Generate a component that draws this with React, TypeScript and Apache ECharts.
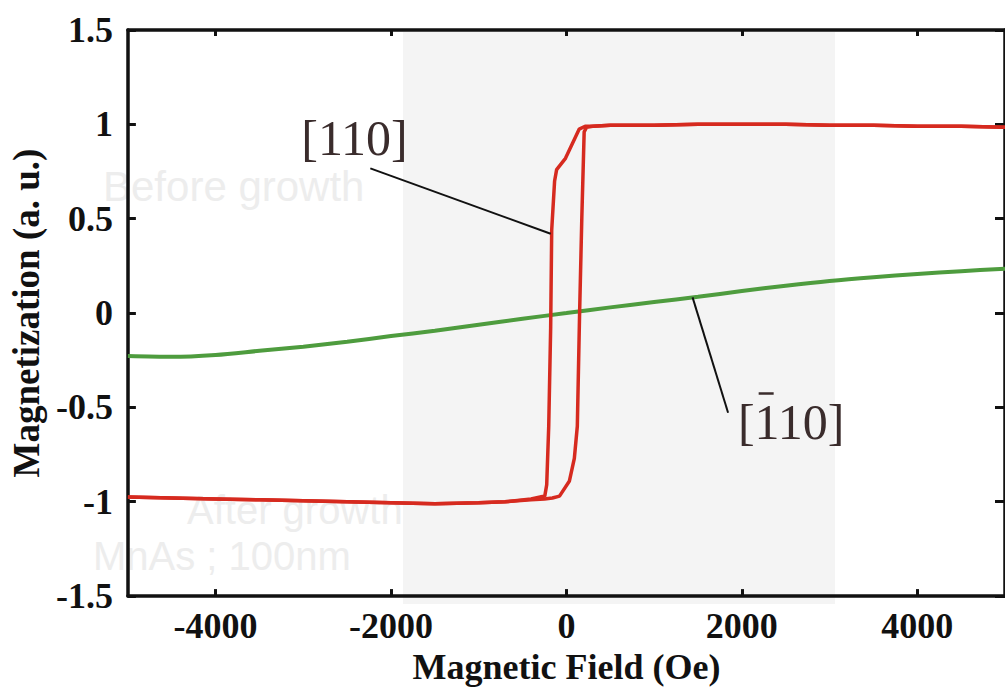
import React, { useEffect, useRef } from "react";
import * as echarts from "echarts";

// X axis tick values (Oe)
const xTickValues = [-4000, -2000, 0, 2000, 4000];

// [110] hysteresis loop — descending branch (field swept + -> -)
const descendingField = [5000, 4500, 4000, 3500, 3000, 2500, 2000, 1500, 1000, 700, 500, 300, 213, 146, -11, -112, -135, -168, -180, -202, -225, -247, -404, -700, -1000, -1500, -2000, -2500, -3000, -3500, -4000, -4500, -5000];
const descendingMag = [0.985, 0.99, 0.99, 0.995, 0.995, 1.0, 1.0, 1.0, 0.995, 0.995, 0.995, 0.99, 0.99, 0.975, 0.82, 0.76, 0.7, 0.44, -0.08, -0.6, -0.91, -0.97, -0.985, -1.0, -1.005, -1.01, -1.005, -1.0, -0.995, -0.99, -0.985, -0.98, -0.975];

// [110] hysteresis loop — ascending branch (field swept - -> +)
const ascendingField = [-5000, -4500, -4000, -3500, -3000, -2500, -2000, -1500, -1000, -700, -404, -250, -160, -79, 34, 90, 124, 150, 175, 202, 230, 300, 500, 1000, 1500, 2000, 2500, 3000, 3500, 4000, 4500, 5000];
const ascendingMag = [-0.975, -0.98, -0.985, -0.99, -0.995, -1.0, -1.005, -1.01, -1.005, -1.0, -0.99, -0.985, -0.98, -0.97, -0.89, -0.77, -0.6, 0.0, 0.5, 0.96, 0.985, 0.99, 0.995, 0.995, 1.0, 1.0, 1.0, 0.995, 0.995, 0.99, 0.99, 0.985];

// [-110] hard-axis curve
const hardField = [-5000, -4500, -4000, -3500, -3000, -2500, -2000, -1500, -1000, -500, 0, 500, 1000, 1500, 2000, 2500, 3000, 3500, 4000, 4500, 5000];
const hardMag = [-0.228, -0.232, -0.222, -0.2, -0.178, -0.152, -0.122, -0.094, -0.062, -0.03, 0.0, 0.03, 0.058, 0.086, 0.117, 0.145, 0.17, 0.19, 0.207, 0.222, 0.235];

// Annotation anchors in data coordinates [field, magnetization]
const label110At = [-2416, 0.93];
const leader110From = [-2236, 0.767];
const leader110To = [-180, 0.42];
const labelBar110At = [2562, -0.58];
const leaderBar110From = [1438, 0.083];
const leaderBar110To = [1843, -0.528];

const zip = (xs: number[], ys: number[]) => xs.map((x, i) => [x, ys[i]]);

export default function App() {
  const ref = useRef<HTMLDivElement>(null);

  useEffect(() => {
    const chart = echarts.init(ref.current!, undefined, { renderer: "svg" });
    const serif = "'Liberation Serif', 'Times New Roman', serif";
    const sans = "'Liberation Sans', Arial, sans-serif";
    const axisColor = "#111111";
    const red = "#d62a1f";
    const green = "#4e9c3e";
    const inkColor = "#3a2c2c";

    const frameLine = { show: true, onZero: false, lineStyle: { color: axisColor, width: 3.5 } };
    const tickStyle = { color: axisColor, width: 3 };

    chart.setOption({
      animation: false,
      backgroundColor: "#ffffff",
      grid: { left: 125, top: 30, right: -9, bottom: 82, containLabel: false },
      xAxis: [
        {
          type: "value",
          min: -5000,
          max: 5000,
          position: "bottom",
          name: "Magnetic Field (Oe)",
          nameLocation: "middle",
          nameGap: 44,
          nameTextStyle: { fontFamily: serif, fontWeight: "bold", fontSize: 36, color: axisColor },
          axisLine: frameLine,
          axisTick: { show: true, inside: true, length: 7, lineStyle: tickStyle, customValues: xTickValues },
          axisLabel: {
            customValues: xTickValues,
            formatter: (v: number) => String(v),
            fontFamily: serif,
            fontWeight: "bold",
            fontSize: 36,
            color: axisColor,
            margin: 12,
          },
          splitLine: { show: false },
        },
        {
          type: "value",
          min: -5000,
          max: 5000,
          position: "top",
          axisLine: frameLine,
          axisTick: { show: true, inside: true, length: 6, lineStyle: tickStyle, customValues: xTickValues },
          axisLabel: { show: false },
          splitLine: { show: false },
        },
      ],
      yAxis: [
        {
          type: "value",
          min: -1.5,
          max: 1.5,
          interval: 0.5,
          position: "left",
          name: "Magnetization (a. u.)",
          nameLocation: "middle",
          nameGap: 82,
          nameRotate: 90,
          nameTextStyle: { fontFamily: serif, fontWeight: "bold", fontSize: 37, color: axisColor },
          axisLine: frameLine,
          axisTick: { show: true, inside: true, length: 8, lineStyle: tickStyle },
          axisLabel: {
            formatter: (v: number) => String(v),
            fontFamily: serif,
            fontWeight: "bold",
            fontSize: 36,
            color: axisColor,
            margin: 15,
            showMinLabel: true,
            showMaxLabel: true,
          },
          splitLine: { show: false },
        },
        {
          type: "value",
          min: -1.5,
          max: 1.5,
          interval: 0.5,
          position: "right",
          axisLine: frameLine,
          axisTick: { show: true, inside: true, length: 10, lineStyle: tickStyle },
          axisLabel: { show: false },
          splitLine: { show: false },
        },
      ],
      series: [
        {
          name: "[-110]",
          type: "line",
          xAxisIndex: 0,
          yAxisIndex: 0,
          data: zip(hardField, hardMag),
          showSymbol: false,
          smooth: 0.3,
          lineStyle: { color: green, width: 4 },
          z: 3,
        },
        {
          name: "[110] descending",
          type: "line",
          xAxisIndex: 0,
          yAxisIndex: 0,
          data: zip(descendingField, descendingMag),
          showSymbol: false,
          lineStyle: { color: red, width: 3.5 },
          z: 4,
        },
        {
          name: "[110] ascending",
          type: "line",
          xAxisIndex: 0,
          yAxisIndex: 0,
          data: zip(ascendingField, ascendingMag),
          showSymbol: false,
          lineStyle: { color: red, width: 3.5 },
          z: 4,
        },
      ],
    });

    const px = (p: number[]) => chart.convertToPixel({ xAxisIndex: 0, yAxisIndex: 0 }, p) as number[];
    const a = px(label110At);
    const b1 = px(leader110From);
    const b2 = px(leader110To);
    const c = px(labelBar110At);
    const d1 = px(leaderBar110From);
    const d2 = px(leaderBar110To);

    const labelFont = 50;
    // overbar on the first "1" of the second label ("[" ≈ 0.333em, "1" ≈ 0.5em in Times metrics)
    const textW = labelFont * 2.166;
    const barX1 = c[0] - textW / 2 + labelFont * 0.333 + labelFont * 0.1;
    const barX2 = barX1 + labelFont * 0.3;
    const barY = c[1] - labelFont * 0.58;

    chart.setOption({
      graphic: [
        // faint show-through texts from the scanned page
        { type: "text", z: -20, silent: true, style: { text: "Before growth", x: 103, y: 186, fontFamily: sans, fontSize: 42, fill: "#ededed", textVerticalAlign: "middle" } },
        { type: "text", z: -20, silent: true, style: { text: "After growth", x: 187, y: 510, fontFamily: sans, fontSize: 40, fill: "#ededed", textVerticalAlign: "middle" } },
        { type: "text", z: -20, silent: true, style: { text: "MnAs ; 100nm", x: 93, y: 556, fontFamily: sans, fontSize: 40, fill: "#ededed", textVerticalAlign: "middle" } },
        // lighter pasted panel
        { type: "rect", z: -10, silent: true, shape: { x: 403, y: 32, width: 432, height: 572 }, style: { fill: "#f4f4f4" } },
        // annotations
        { type: "text", z: 10, style: { text: "[110]", x: a[0], y: a[1], fontFamily: serif, fontSize: labelFont, fill: inkColor, textAlign: "center", textVerticalAlign: "middle" } },
        { type: "line", z: 10, shape: { x1: b1[0], y1: b1[1], x2: b2[0], y2: b2[1] }, style: { stroke: "#111", lineWidth: 2 } },
        { type: "text", z: 10, style: { text: "[110]", x: c[0], y: c[1], fontFamily: serif, fontSize: labelFont, fill: inkColor, textAlign: "center", textVerticalAlign: "middle" } },
        { type: "line", z: 10, shape: { x1: barX1, y1: barY, x2: barX2, y2: barY }, style: { stroke: inkColor, lineWidth: 2.5 } },
        { type: "line", z: 10, shape: { x1: d1[0], y1: d1[1], x2: d2[0], y2: d2[1] }, style: { stroke: "#111", lineWidth: 2 } },
      ],
    });

    return () => chart.dispose();
  }, []);

  return (
    <div style={{ position: "fixed", left: 0, top: 0, width: 1005, height: 690, overflow: "hidden", background: "#fff" }}>
      <div ref={ref} style={{ width: 1005, height: 690 }} />
    </div>
  );
}
